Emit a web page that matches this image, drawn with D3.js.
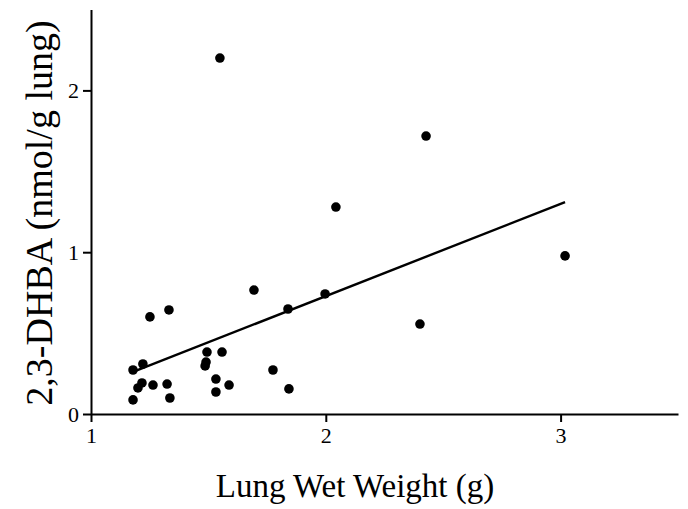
<!DOCTYPE html>
<html>
<head>
<meta charset="utf-8">
<script src="https://cdn.jsdelivr.net/npm/d3@7"></script>
<style>
  body { margin: 0; background: #fff; }
  svg { display: block; }
</style>
</head>
<body>
<div id="chart"></div>
<script>
// lung wet weight (g) for each animal
const weightG = [
  1.179, 1.336, 1.200, 1.217, 1.264, 1.324, 1.179, 1.221, 1.251,
  1.332, 1.494, 1.558, 1.490, 1.486, 1.532, 1.588, 1.532, 1.694,
  1.775, 1.839, 1.843, 1.997, 2.043, 1.549, 2.427, 2.401, 3.019,
];
// 2,3-DHBA (nmol/g lung)
const dhba = [
  0.087, 0.099, 0.161, 0.192, 0.179, 0.185, 0.272, 0.309, 0.600,
  0.643, 0.383, 0.383, 0.321, 0.297, 0.216, 0.179, 0.136, 0.766,
  0.272, 0.649, 0.155, 0.742, 1.279, 2.200, 1.718, 0.556, 0.977,
];
// regression line end points
const fitX = [1.179, 3.019];
const fitY = [0.260, 1.310];

const xTicks = [1, 2, 3];
const yTicks = [0, 1, 2];

const width = 688;
const height = 509;
const font = '"Liberation Serif", "Times New Roman", serif';

const svg = d3.select('#chart').append('svg')
  .attr('width', width)
  .attr('height', height);

const x = d3.scaleLinear()
  .domain([1, 3.5])
  .range([91, 678]);

const y = d3.scaleLinear()
  .domain([0, 2.5])
  .range([414, 9.5]);

const xAxis = d3.axisBottom(x)
  .tickValues(xTicks)
  .tickFormat(d3.format('d'))
  .tickSizeInner(8)
  .tickSizeOuter(0)
  .tickPadding(5);

const yAxis = d3.axisLeft(y)
  .tickValues(yTicks)
  .tickFormat(d3.format('d'))
  .tickSizeInner(8)
  .tickSizeOuter(0)
  .tickPadding(4);

const xAx = svg.append('g')
  .attr('transform', `translate(0,${y(0)})`)
  .call(xAxis);

const yAx = svg.append('g')
  .attr('transform', `translate(${x(1)},0)`)
  .call(yAxis);

[xAx, yAx].forEach(ax => {
  ax.selectAll('path, line')
    .style('stroke', '#000')
    .style('stroke-width', '2px');
  ax.selectAll('text')
    .style('font-family', font)
    .style('font-size', '22px')
    .style('fill', '#000');
});

// regression line
svg.append('line')
  .attr('x1', x(fitX[0]))
  .attr('y1', y(fitY[0]))
  .attr('x2', x(fitX[1]))
  .attr('y2', y(fitY[1]))
  .style('stroke', '#000')
  .style('stroke-width', 2.4);

// points
svg.selectAll('.dot')
  .data(weightG.map((w, i) => ({ w, v: dhba[i] })))
  .enter().append('circle')
  .attr('class', 'dot')
  .attr('cx', d => x(d.w))
  .attr('cy', d => y(d.v))
  .attr('r', 4.8)
  .style('fill', '#000');

// axis titles
svg.append('text')
  .attr('x', 355)
  .attr('y', 497)
  .style('text-anchor', 'middle')
  .style('font-family', font)
  .style('font-size', '33px')
  .text('Lung Wet Weight (g)');

svg.append('text')
  .attr('transform', 'translate(52,213) rotate(-90)')
  .style('text-anchor', 'middle')
  .style('font-family', font)
  .style('font-size', '38px')
  .text('2,3-DHBA (nmol/g lung)');
</script>
</body>
</html>
